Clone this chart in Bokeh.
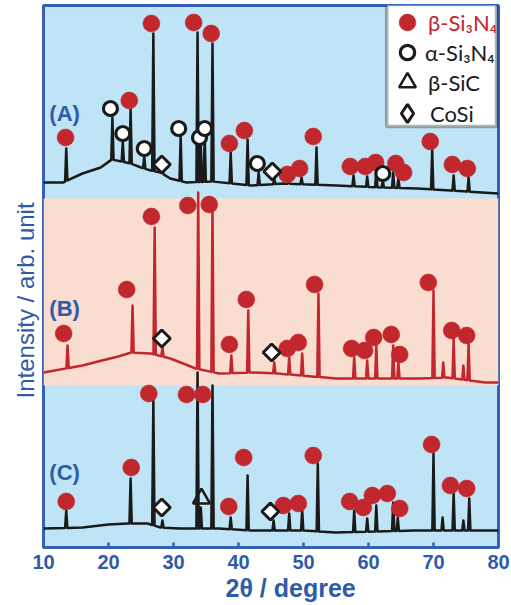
import numpy as np
from bokeh.plotting import figure
from bokeh.models import Range1d, BoxAnnotation, Label, Legend, LegendItem, FixedTicker, Title
from bokeh.embed import file_html
from bokeh.resources import INLINE

# ---------------- data (y = height in plot units) ----------------
x_ticks = [10, 20, 30, 40, 50, 60, 70, 80]
x_title = "2θ / degree"
y_title = "Intensity / arb. unit"
sample_names = ["(A)", "(B)", "(C)"]
sample_label_x = [10.9, 10.9, 10.9]
sample_label_y = [434, 239, 75]
legend_names = ["β-Si₃N₄", "α-Si₃N₄", "β-SiC", "CoSi"]

# trace A (black)
A_base_x = [10, 13, 16, 18.8, 20.5, 22, 23.4, 25, 26.5, 28, 29.5, 32, 36, 39, 42, 47, 55, 62, 67.5, 72.6, 80]
A_base_y = [365, 365, 374, 380, 388, 386, 384, 380, 377, 375, 369, 365, 366, 364, 362, 364, 362, 360, 359, 357, 354]
A_peak_x = [13.5, 20.6, 22.2, 23.4, 25.5, 26.9, 28.3, 31.1, 33.7, 34.2, 34.8, 36.0, 38.8, 41.4, 43.1,
            45.5, 47.7, 49.7, 52.0, 57.7, 59.8, 61.2, 62.2, 63.8, 64.6, 69.8, 73.1, 75.4]
A_peak_y = [399, 430, 406, 438, 391, 514, 377, 411, 515, 402, 411, 504, 395, 408, 375,
            369, 367, 370, 400, 372, 371, 377, 367, 375, 369, 397, 372, 370]

# trace B (red)
B_base_x = [10, 16, 19, 21.5, 23.5, 26.5, 29.5, 31.5, 33.4, 37, 42, 46, 55, 62, 68, 72, 78, 80]
B_base_y = [175, 182, 187, 191, 195, 194, 189, 184, 179, 174, 175, 174, 169, 169, 169, 170, 165, 165]
B_peak_x = [13.7, 23.7, 27.1, 28.3, 33.8, 36.0, 38.9, 41.5, 45.5, 47.8, 49.8, 52.3, 57.8, 59.8,
            61.2, 63.8, 64.6, 70.0, 71.5, 73.1, 74.6, 75.4]
B_peak_y = [202, 242, 320, 200, 355, 342, 192, 237, 185, 190, 194, 254, 190, 187,
            202, 202, 185, 257, 185, 209, 182, 204]

# trace C (black)
C_base_x = [10, 16, 20, 23, 26, 28, 31, 37, 42, 50, 55, 67, 80]
C_base_y = [19, 20, 23, 24, 24, 20, 19, 19, 17, 17, 15, 17, 17]
C_peak_x = [13.5, 23.4, 26.9, 28.3, 33.7, 34.2, 36.0, 38.8, 41.4, 45.4, 47.8, 49.8, 52.2, 57.8,
            59.8, 61.2, 63.8, 64.5, 70.0, 71.4, 73.1, 74.6, 75.5]
C_peak_y = [37, 69, 149, 27, 175, 40, 162, 30, 72, 27, 34, 37, 84, 37,
            29, 42, 45, 30, 94, 30, 54, 27, 49]

# phase markers
beta_A_x = [13.4, 23.2, 26.6, 33.1, 35.8, 38.6, 40.9, 47.5, 49.4, 51.5, 57.2, 59.5, 61.1, 64.2, 65.4, 69.5, 72.9, 75.2]
beta_A_y = [410, 447, 524, 525, 514, 404, 417, 373, 379, 411, 381, 381, 385, 384, 375, 406, 383, 379]
beta_B_x = [13.1, 22.8, 26.6, 32.2, 35.5, 38.6, 41.2, 47.5, 49.2, 51.7, 57.4, 59.4, 60.8, 63.5, 64.8, 69.2, 72.8, 75.1]
beta_B_y = [214, 258, 331, 342, 343, 203, 248, 199, 205, 263, 199, 197, 210, 213, 193, 265, 217, 212]
beta_C_x = [13.5, 23.5, 26.2, 32.0, 34.5, 38.5, 40.8, 46.9, 49.2, 51.5, 57.1, 59.2, 60.6, 62.9, 64.8, 69.7, 72.6, 75.1]
beta_C_y = [46, 80, 154, 153, 153, 41, 90, 42, 44, 92, 46, 40, 52, 54, 39, 103, 62, 59]
alpha_x = [20.3, 22.2, 25.5, 30.8, 34.0, 34.8, 42.9, 62.2]
alpha_y = [439, 414, 399, 419, 410, 419, 384, 374]
sic_x = [34.3]
sic_y = [49]
cosi_x = [28.2, 45.2, 28.2, 45.1, 28.2, 44.9]
cosi_y = [383, 376, 209, 195, 40, 36]

# ---------------- styles ----------------
BLUE_TEXT = "#2F5CA8"
FRAME = "#3461B3"
BG = "#BEE4F5"
PEACH = "#F9DDD1"
RED = "#C1272D"
BLACK = "#1A1A1A"


def build_trace(bx, by, px, py, w=0.18):
    pts = []
    for x, y in zip(bx, by):
        if all(abs(x - q) > w for q in px):
            pts.append((x, y))
    for q, t in zip(px, py):
        pts.append((q - w, float(np.interp(q - w, bx, by))))
        pts.append((q, t))
        pts.append((q + w, float(np.interp(q + w, bx, by))))
    pts.sort()
    return [a for a, _ in pts], [b for _, b in pts]


p = figure(width=511, height=605, x_range=Range1d(10, 80), y_range=Range1d(0, 542),
           output_backend="svg", toolbar_location=None,
           min_border_left=43, min_border_right=13, min_border_top=5, min_border_bottom=58,
           background_fill_color=BG, border_fill_color="white",
           outline_line_color=FRAME, outline_line_width=3)
p.grid.visible = False
p.yaxis.visible = False

ax = p.xaxis[0]
ax.ticker = FixedTicker(ticks=x_ticks)
ax.major_tick_in = 5
ax.major_tick_out = 0
ax.minor_tick_in = 0
ax.minor_tick_out = 0
ax.major_tick_line_color = FRAME
ax.major_tick_line_width = 2.5
ax.axis_line_color = None
ax.major_label_text_font = "Liberation Sans"
ax.major_label_text_font_style = "bold"
ax.major_label_text_font_size = "20px"
ax.major_label_text_color = BLUE_TEXT
ax.major_label_standoff = 7

# axis titles
p.add_layout(Title(text=x_title, align="left", offset=182, standoff=0,
                   text_font="Liberation Sans", text_font_style="bold", text_font_size="25px",
                   text_color=BLUE_TEXT), "below")
p.add_layout(Title(text=y_title, align="left", offset=149, standoff=10,
                   text_font="Liberation Sans", text_font_style="normal", text_font_size="24px",
                   text_color=BLUE_TEXT), "left")

# peach band behind trace B
p.add_layout(BoxAnnotation(bottom=162, top=349, fill_color=PEACH, fill_alpha=1,
                           line_color=None, level="underlay"))

for bx, by, qx, qy, col in [(A_base_x, A_base_y, A_peak_x, A_peak_y, BLACK),
                            (B_base_x, B_base_y, B_peak_x, B_peak_y, RED),
                            (C_base_x, C_base_y, C_peak_x, C_peak_y, BLACK)]:
    tx, ty = build_trace(bx, by, qx, qy)
    p.line(tx, ty, line_color=col, line_width=2.5, line_join="round")

r_beta = p.scatter(beta_A_x + beta_B_x + beta_C_x, beta_A_y + beta_B_y + beta_C_y,
                   marker="circle", size=17, fill_color=RED, line_color=RED, line_width=0.5)
r_alpha = p.scatter(alpha_x, alpha_y, marker="circle", size=14, fill_color="white",
                    line_color=BLACK, line_width=3.2)
r_sic = p.scatter(sic_x, sic_y, marker="triangle", size=17, fill_color=None,
                  line_color=BLACK, line_width=2.5)
# diamond-key renderer (hidden under the rotated squares) used for the legend entry
r_cosi_key = p.scatter(cosi_x, cosi_y, marker="diamond", size=16, fill_color="white",
                       line_color=BLACK, line_width=3)
p.scatter(cosi_x, cosi_y, marker="square", size=12, angle=np.pi / 4, fill_color="white",
          line_color=BLACK, line_width=3)

# sample labels
for name, lx, ly in zip(sample_names, sample_label_x, sample_label_y):
    p.add_layout(Label(x=lx, y=ly, text=name, text_font="Liberation Sans", text_font_style="bold",
                       text_font_size="22px", text_color=BLUE_TEXT, text_baseline="middle",
                       text_align="left"))

# legend box
p.add_layout(BoxAnnotation(left=62.8, right=79.7, bottom=421, top=543, fill_color="white",
                           fill_alpha=1, line_color="black", line_width=3.5))

leg_specs = [
    (legend_names[0], r_beta, RED, 42, 343, 504, -3),
    (legend_names[1], r_alpha, BLACK, 36, 346, 477, 0),
    (legend_names[2], r_sic, BLACK, 42, 343, 444, -3),
    (legend_names[3], r_cosi_key, BLACK, 46, 341, 411, -5),
]
for name, rend, col, g, vx, vy, stand in leg_specs:
    lg = Legend(items=[LegendItem(label=name, renderers=[rend])], location=(vx, vy),
                glyph_width=g, glyph_height=g, padding=0, margin=0, spacing=0,
                label_standoff=stand, border_line_color=None, background_fill_alpha=0,
                label_text_font="Lato", label_text_font_size="22px", label_text_color=col)
    p.add_layout(lg)

open("out.html", "w").write(file_html(p, INLINE))
